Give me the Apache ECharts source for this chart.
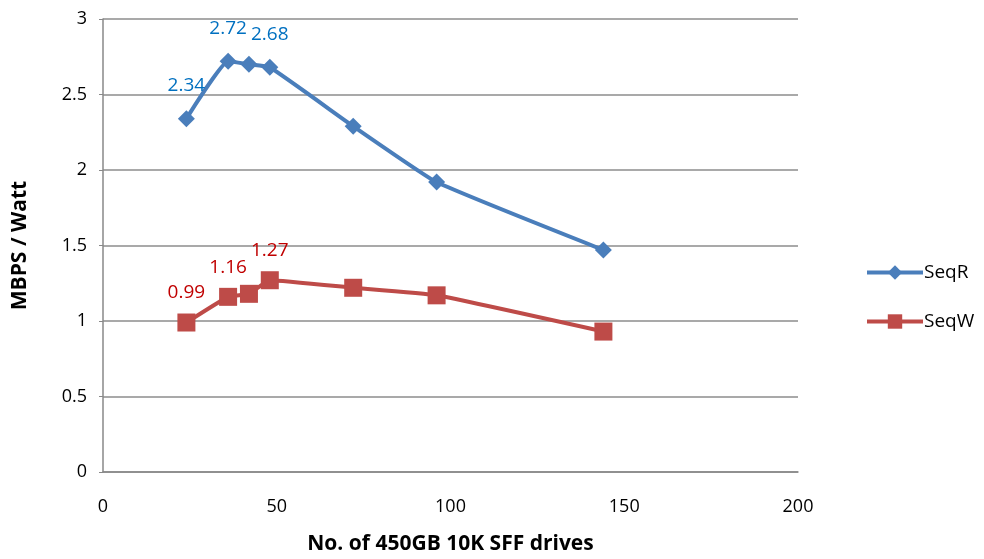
<!DOCTYPE html>
<html><head><meta charset="utf-8">
<script src="https://cdn.jsdelivr.net/npm/echarts@6/dist/echarts.min.js"></script>
<style>html,body{margin:0;padding:0;background:#fff}#c{width:984px;height:559px}</style>
</head><body><div id="c"></div>
<script>
const drives = [24, 36, 42, 48, 72, 96, 144];
const seqR = [2.34, 2.72, 2.70, 2.68, 2.29, 1.92, 1.47];
const seqW = [0.99, 1.16, 1.18, 1.27, 1.22, 1.17, 0.93];
const labelledIdx = [0, 1, 3];
const font = "'Open Sans', 'Liberation Sans', sans-serif";

function build(xs, ys) {
  return xs.map((x, i) => {
    const d = { value: [x, ys[i]] };
    if (labelledIdx.indexOf(i) >= 0) d.label = { show: true };
    return d;
  });
}

const chart = echarts.init(document.getElementById('c'));
chart.setOption({
  animation: false,
  grid: { left: 103, right: 186, top: 19, bottom: 87, containLabel: false, outerBoundsMode: 'none' },
  legend: {
    orient: 'vertical', left: 860, top: 258, itemWidth: 56, itemHeight: 18, itemGap: 30,
    lineStyle: { width: 4 },
    textStyle: { fontFamily: font, fontSize: 19, color: '#000', padding: [0, 0, 0, -4] },
    data: ['SeqR', 'SeqW']
  },
  xAxis: {
    type: 'value', min: 0, max: 200, interval: 50,
    name: 'No. of 450GB 10K SFF drives', nameLocation: 'middle', nameGap: 62,
    nameTextStyle: { fontFamily: font, fontSize: 21, fontWeight: 'bold', color: '#000' },
    axisLine: { show: true, lineStyle: { color: '#888', width: 1.5 } },
    axisTick: { show: false },
    axisLabel: { fontFamily: font, fontSize: 18, color: '#000', margin: 26 },
    splitLine: { show: false }
  },
  yAxis: {
    type: 'value', min: 0, max: 3, interval: 0.5,
    name: 'MBPS / Watt', nameLocation: 'middle', nameGap: 72,
    nameTextStyle: { fontFamily: font, fontSize: 21, fontWeight: 'bold', color: '#000' },
    axisLine: { show: true, lineStyle: { color: '#888', width: 1.5 } },
    axisTick: { show: true, length: 4, lineStyle: { color: '#888' } },
    axisLabel: { fontFamily: font, fontSize: 18, color: '#000', margin: 16 },
    splitLine: { show: true, lineStyle: { color: '#8c8c8c', width: 1.5 } }
  },
  series: [
    {
      name: 'SeqR', type: 'line', smooth: 0.12,
      data: build(drives, seqR),
      symbol: 'diamond', symbolSize: 17,
      lineStyle: { color: '#4a7ebb', width: 4 },
      itemStyle: { color: '#4a7ebb' },
      label: { show: false, position: 'top', distance: 15, fontFamily: font, fontSize: 19, color: '#0070c0',
        formatter: p => p.value[1].toFixed(2) }
    },
    {
      name: 'SeqW', type: 'line', smooth: 0.12,
      data: build(drives, seqW),
      symbol: 'rect', symbolSize: 18,
      lineStyle: { color: '#be4b48', width: 4 },
      itemStyle: { color: '#be4b48' },
      label: { show: false, position: 'top', distance: 11, fontFamily: font, fontSize: 19, color: '#c00000',
        formatter: p => p.value[1].toFixed(2) }
    }
  ]
});
</script></body></html>
